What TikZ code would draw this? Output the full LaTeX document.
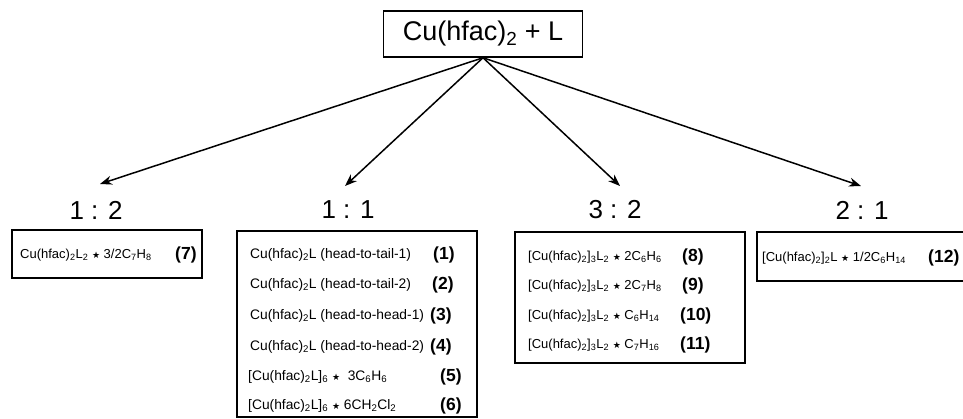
\documentclass[tikz,border=0pt]{standalone}
\usepackage{fontspec}
\setmainfont{Liberation Sans}
\newfontfamily\djv{DejaVu Sans}
\usetikzlibrary{arrows.meta}
\newcommand\st{{\djv\fontsize{9}{9}\selectfont ★}}
\newcommand\sub[1]{\textsubscript{#1}}
\begin{document}
\begin{tikzpicture}[x=1pt,y=-1pt,
  frame/.style={draw, line width=1.5pt},
  row/.style={anchor=west, inner sep=0pt, font=\fontsize{13}{15}\selectfont},
  rowb/.style={row, font=\fontsize{13.8}{15}\selectfont},
  num/.style={anchor=west, inner sep=0pt, font=\fontsize{17.5}{19}\selectfont\bfseries},
  ratio/.style={inner sep=0pt, font=\fontsize{26}{28}\selectfont},
  arr/.style={line width=1.5pt, -{Stealth[length=12pt,width=9pt]}}]
\useasboundingbox (0,0) rectangle (963,419);
\node[frame, minimum width=199pt, minimum height=46pt, inner sep=0pt,
      font=\fontsize{27}{29}\selectfont] (top) at (483,34) {Cu(hfac)\sub{2} + L};

\node[ratio] (r12) at (96,210) {1 : 2};
\node[ratio] (r11) at (348,210) {1 : 1};
\node[ratio] (r32) at (615,210) {3 : 2};
\node[ratio] (r21) at (862,210) {2 : 1};

\coordinate (t12) at (100,184);
\coordinate (t11) at (345,186);
\coordinate (t32) at (620,186);
\coordinate (t21) at (861,186);
\draw[arr] (top.south) -- (t12);
\draw[arr] (top.south) -- (t11);
\draw[arr] (top.south) -- (t32);
\draw[arr] (top.south) -- (t21);

% 1:2 box
\draw[frame] (12,230) rectangle (202,278);
\node[row] (c7) at (20,255) {Cu(hfac)\sub{2}L\sub{2} \st{} 3/2C\sub{7}H\sub{8}};
\node[num] (n7) at (175,255) {(7)};

% 1:1 box
\draw[frame] (237,231) rectangle (477,417);
\node[rowb] (c1) at (250,255) {Cu(hfac)\sub{2}L (head-to-tail-1)};
\node[num] (n1) at (433,255) {(1)};
\node[rowb] (c2) at (250,285) {Cu(hfac)\sub{2}L (head-to-tail-2)};
\node[num] (n2) at (432,285) {(2)};
\node[rowb] (c3) at (250,316) {Cu(hfac)\sub{2}L (head-to-head-1)};
\node[num] (n3) at (430,316) {(3)};
\node[rowb] (c4) at (250,347) {Cu(hfac)\sub{2}L (head-to-head-2)};
\node[num] (n4) at (430,347) {(4)};
\node[rowb] (c5) at (248,377) {[Cu(hfac)\sub{2}L]\sub{6} \st{}\ \ 3C\sub{6}H\sub{6}};
\node[num] (n5) at (440,377) {(5)};
\node[rowb] (c6) at (248,406) {[Cu(hfac)\sub{2}L]\sub{6} \st{} 6CH\sub{2}Cl\sub{2}};
\node[num] (n6) at (440,406) {(6)};

% 3:2 box
\draw[frame] (515,232) rectangle (745,363);
\node[row] (c8) at (528,257) {[Cu(hfac)\sub{2}]\sub{3}L\sub{2} \st{} 2C\sub{6}H\sub{6}};
\node[num] (n8) at (682,257) {(8)};
\node[row] (c9) at (528,286) {[Cu(hfac)\sub{2}]\sub{3}L\sub{2} \st{} 2C\sub{7}H\sub{8}};
\node[num] (n9) at (682,286) {(9)};
\node[row] (c10) at (528,316) {[Cu(hfac)\sub{2}]\sub{3}L\sub{2} \st{} C\sub{6}H\sub{14}};
\node[num] (n10) at (680,316) {(10)};
\node[row] (c11) at (528,345) {[Cu(hfac)\sub{2}]\sub{3}L\sub{2} \st{} C\sub{7}H\sub{16}};
\node[num] (n11) at (680,345) {(11)};

% 2:1 box
\draw[frame] (757,232) rectangle (972,281);
\node[row] (c12) at (762,258) {[Cu(hfac)\sub{2}]\sub{2}L \st{} 1/2C\sub{6}H\sub{14}};
\node[num] (n12) at (928,258) {(12)};
\end{tikzpicture}
\end{document}
